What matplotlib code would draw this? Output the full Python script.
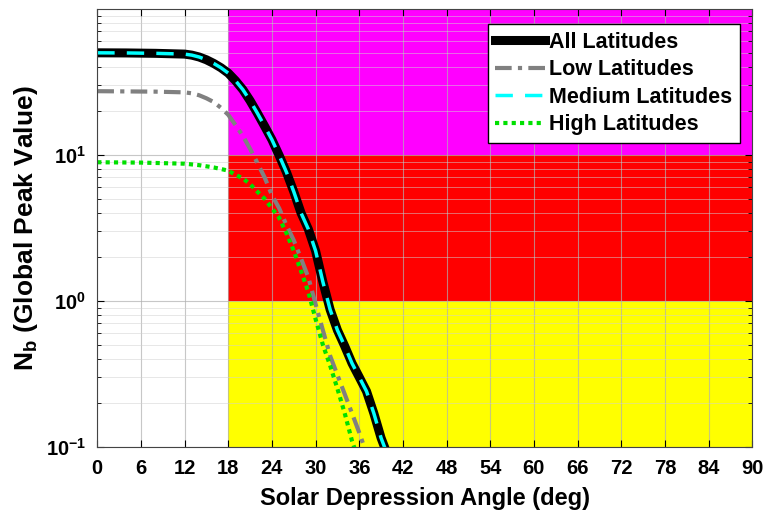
import matplotlib.pyplot as plt
from matplotlib.ticker import LogLocator, NullFormatter

plt.rcParams["font.family"] = ["Liberation Sans", "DejaVu Sans"]
plt.rcParams["font.weight"] = "bold"
plt.rcParams["mathtext.fontset"] = "custom"
plt.rcParams["mathtext.rm"] = "Liberation Sans:bold"
plt.rcParams["mathtext.bf"] = "Liberation Sans:bold"
plt.rcParams["axes.unicode_minus"] = False

# curve samples (deg, value)
all_x = [0, 4, 8, 12, 13, 14, 15, 16, 17, 18, 19, 20, 21, 22, 23, 24, 25, 26, 27, 28,
         29, 30, 31, 32, 33, 34, 35, 36, 37, 38, 39, 40]
all_y = [50, 49.9, 49.6, 49, 48.2, 46.8, 44.8, 42.3, 39.5, 36.3, 32.2, 28, 23.5, 19.3, 15.7, 12.7,
         9.9, 7.6, 5.6, 4.0, 3.1, 2.2, 1.35, 0.87, 0.63, 0.49, 0.374, 0.30, 0.24, 0.17, 0.115, 0.085]

low_x = [0, 4, 8, 12, 13, 14, 15, 16, 17, 18, 19, 20, 21, 22, 23, 24, 25, 26, 27, 28,
         29, 30, 31, 32, 33, 34, 35, 36, 37]
low_y = [27.3, 27.2, 27.1, 26.8, 26.4, 25.6, 24.4, 23.0, 21.0, 18.8, 16.0, 13.5, 11.0, 8.8, 7.0, 5.3,
         4.3, 3.3, 2.6, 1.95, 1.45, 0.95, 0.63, 0.42, 0.31, 0.23, 0.17, 0.125, 0.09]

high_x = [0, 6, 12, 14, 16, 18, 19, 20, 21, 22, 23, 24, 25, 26, 27, 28, 29, 30, 31, 32,
          33, 34, 35, 35.6]
high_y = [8.9, 8.85, 8.7, 8.5, 8.2, 7.8, 7.3, 6.9, 6.3, 5.6, 5.0, 4.3, 3.7, 2.9, 2.2, 1.6,
          1.15, 0.75, 0.5, 0.36, 0.25, 0.17, 0.11, 0.09]

# background bands
band_x = [18, 90]
band_lo = [10, 1, 0.1]
band_hi = [100, 10, 1]
band_colors = ["#ff00ff", "#ff0000", "#ffff00"]

x_ticks = list(range(0, 91, 6))


def main():
    fig = plt.figure(figsize=(7.66, 5.22), dpi=100)
    ax = fig.add_axes([0.127, 0.144, 0.855, 0.839])

    for lo, hi, c in zip(band_lo, band_hi, band_colors):
        ax.fill_between(band_x, lo, hi, color=c, linewidth=0, zorder=1)

    ax.plot(all_x, all_y, color="black", linewidth=6.5, zorder=3, label="All Latitudes")
    ax.plot(low_x, low_y, color="#808080", linewidth=3, linestyle=(0, (4, 1.5, 1, 1.5)), zorder=3, label="Low Latitudes")
    ax.plot(all_x, all_y, color="#00ffff", linewidth=2.5, linestyle=(0, (5, 3.5)), zorder=4, label="Medium Latitudes")
    ax.plot(high_x, high_y, color="#00e000", linewidth=3, linestyle=(0, (1, 1)), zorder=4, label="High Latitudes")

    ax.set_yscale("log")
    ax.set_xlim(0, 90)
    ax.set_ylim(0.1, 100)
    ax.set_xticks(x_ticks)
    ax.set_yticks([0.1, 1, 10])
    ax.yaxis.set_minor_locator(LogLocator(base=10, subs=range(2, 10), numticks=20))
    ax.yaxis.set_minor_formatter(NullFormatter())

    ax.grid(True, which="major", color="#b0b0b0", linewidth=0.8, alpha=0.7)
    ax.grid(True, which="minor", axis="y", color="#d0d0d0", linewidth=0.6, alpha=0.6)
    ax.set_axisbelow(False)
    for gl in ax.get_xgridlines() + ax.get_ygridlines():
        gl.set_zorder(2)

    ax.tick_params(which="both", direction="in", top=True, right=True, labelsize=14.5)
    ax.tick_params(which="major", length=5)
    ax.tick_params(which="minor", length=3)
    ax.tick_params(axis="x", pad=9)
    ax.tick_params(axis="y", pad=8)
    for sp in ax.spines.values():
        sp.set_color("#444444")
        sp.set_zorder(5)

    ax.set_xlabel("Solar Depression Angle (deg)", fontsize=17, fontweight="bold", labelpad=6)
    ax.set_ylabel(r"$\mathbf{N_b}$ (Global Peak Value)", fontsize=19, fontweight="bold", labelpad=4)

    leg = ax.legend(loc="upper right", fontsize=15.5, frameon=True, fancybox=False,
                    edgecolor="black", framealpha=1, handlelength=2.3, handletextpad=0.2,
                    borderpad=0.35, labelspacing=0.3, borderaxespad=0,
                    bbox_to_anchor=(0.981, 0.965))
    leg.get_frame().set_linewidth(1)
    leg.set_zorder(6)

    fig.savefig("out.png", dpi=100)


if __name__ == "__main__":
    main()
